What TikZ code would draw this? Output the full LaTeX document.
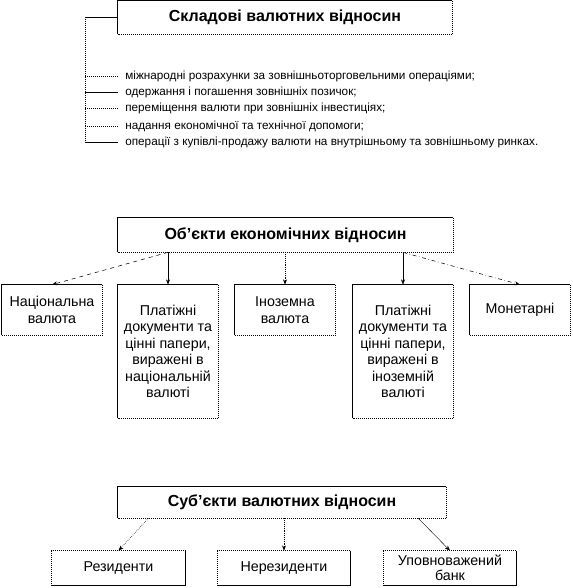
\documentclass[tikz,border=0pt]{standalone}
\usepackage{fontspec}
\setmainfont{Liberation Sans}
\usetikzlibrary{arrows.meta}

\begin{document}
\begin{tikzpicture}[x=0.75pt,y=-0.75pt,
  box/.style={inner sep=0pt, align=center, font=\fontsize{10.7}{12.4}\selectfont},
  head/.style={inner sep=0pt, font=\fontsize{12}{14}\selectfont\bfseries},
  item/.style={inner sep=0pt, anchor=west, font=\fontsize{8.8}{10}\selectfont},
  link/.style={-{Stealth[length=4pt,width=3pt]}, line width=0.4pt},
  dotline/.style={densely dotted, line width=0.5pt}]

\useasboundingbox (0,0) rectangle (573,588);

\begin{scope}[line width=0.5pt]

% components
\node [head, minimum width=250.5pt, minimum height=24.75pt] (comp) at (285,17.5) {Складові валютних відносин};

\coordinate (brk) at (85,17.5);
\coordinate (brkend) at (85,142);

\node [item] (it1) at (125,76)  {міжнародні розрахунки за зовнішньоторговельними операціями;};
\node [item] (it2) at (125,92)  {одержання і погашення зовнішніх позичок;};
\node [item] (it3) at (125,108) {переміщення валюти при зовнішніх інвестиціях;};
\node [item] (it4) at (125,126) {надання економічної та технічної допомоги;};
\node [item] (it5) at (125,142) {операції з купівлі-продажу валюти на внутрішньому та зовнішньому ринках.};

\draw (comp.west) -- (brk);
\draw [dotline] (brk) -- (brkend);
\foreach \n in {it1,it3,it4}
  \draw [dotline] (brk |- \n.west) -- ([xshift=-5pt]\n.west);
\foreach \n in {it2,it5}
  \draw (brk |- \n.west) -- ([xshift=-5pt]\n.west);

% objects
\node [head, minimum width=251.25pt, minimum height=25.5pt] (obj) at (285.5,235) {Об’єкти економічних відносин};

\node [box, minimum width=75pt, minimum height=37.5pt] (nat)  at (52,310)    {Національна\\валюта};
\node [box, minimum width=75pt, minimum height=99.75pt] (pay1) at (168,351.5) {Платіжні\\документи та\\цінні папери,\\виражені в\\національній\\валюті};
\node [box, minimum width=75pt, minimum height=37.5pt] (forn) at (285,310)   {Іноземна\\валюта};
\node [box, minimum width=75pt, minimum height=99.75pt] (pay2) at (403,351.5) {Платіжні\\документи та\\цінні папери,\\виражені в\\іноземній\\валюті};
\node [box, minimum width=75pt, minimum height=37.5pt] (mon)  at (520,310)   {Монетарні};

\draw [link, dashed] (obj.south -| pay1.north) -- (nat.north);
\draw [link] (obj.south -| pay1.north) -- (pay1.north);
\draw [link, dotline] (obj.south -| forn.north) -- (forn.north);
\draw [link] (obj.south -| pay2.north) -- (pay2.north);
\draw [link, dash dot] (obj.south -| pay2.north) -- (mon.north);

% subjects
\node [head, minimum width=246pt, minimum height=23.25pt] (subj) at (282,502.5) {Суб’єкти валютних відносин};

\node [box, minimum width=99.75pt, minimum height=25.5pt] (res)  at (118.5,568) {Резиденти};
\node [box, minimum width=99pt, minimum height=25.5pt]    (nres) at (284,568)   {Нерезиденти};
\node [box, minimum width=99pt, minimum height=25.5pt, font=\fontsize{10.7}{11.5}\selectfont] (bank) at (450,568) {Уповноважений\\банк};

\draw [link, dotline] ([xshift=23pt]subj.south west) -- (res.north);
\draw [link, dotline] (subj.south -| nres.north) -- (nres.north);
\draw [link, line width=0.3pt] ([xshift=-21pt]subj.south east) -- (bank.north);

% frames
\foreach \n in {comp,obj,nat,pay1,forn,pay2,mon,subj} {
  \draw (\n.south west) |- (\n.north east);
  \draw [dotline] (\n.north east) |- (\n.south west);
}
\foreach \n in {res,nres,bank} {
  \draw [dotline] (\n.south west) |- (\n.north east);
  \draw (\n.north east) |- (\n.south west);
}

\end{scope}
\end{tikzpicture}
\end{document}
